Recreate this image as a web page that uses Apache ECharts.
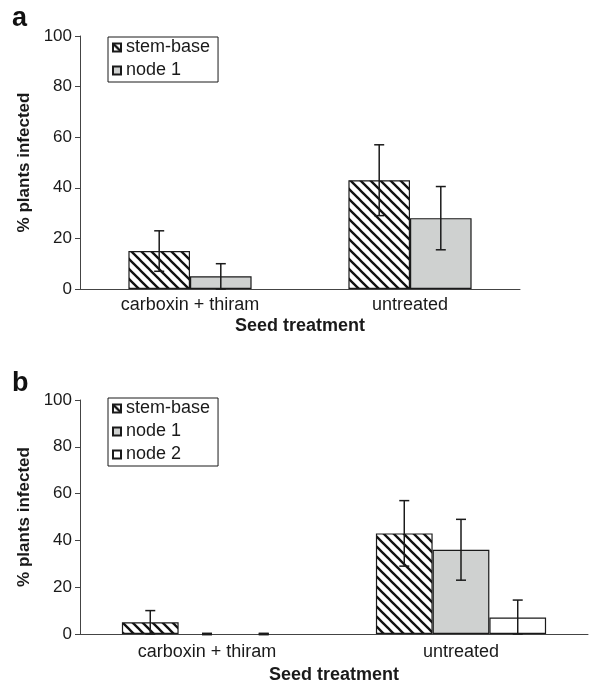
<!DOCTYPE html>
<html>
<head>
<meta charset="utf-8">
<script src="https://cdn.jsdelivr.net/npm/echarts@6/dist/echarts.min.js"></script>
<style>
  html, body { margin: 0; padding: 0; background: #fff; }
  #main { width: 589px; height: 685px; }
</style>
</head>
<body>
<div id="main"></div>
<script>
var categories = ['carboxin + thiram', 'untreated'];
var yTicks = [0, 20, 40, 60, 80, 100];

// panel a
var aStemBase = [15, 43];
var aStemBaseErr = [8, 14];
var aNode1 = [5, 28];
var aNode1Err = [5, 12.5];

// panel b
var bStemBase = [5, 43];
var bStemBaseErr = [5, 14];
var bNode1 = [0, 36];
var bNode1Err = [0, 13];
var bNode2 = [0, 7];
var bNode2Err = [0, 7.5];

var font = '"Liberation Sans", Arial, sans-serif';
var ink = '#1a1a1a';

// diagonal hatch for stem-base
var hatch = document.createElement('canvas');
hatch.width = 10; hatch.height = 10;
var hc = hatch.getContext('2d');
hc.fillStyle = '#fff';
hc.fillRect(0, 0, 10, 10);
hc.strokeStyle = '#111';
hc.lineWidth = 2.3;
[-10, 0, 10].forEach(function (c) {
  hc.beginPath();
  hc.moveTo(-1, c - 1);
  hc.lineTo(11, c + 11);
  hc.stroke();
});
var hatchFill = { image: hatch, repeat: 'repeat' };

var styles = {
  'stem-base': { color: hatchFill, borderColor: ink, borderWidth: 1.2 },
  'node 1': { color: '#cfd1d0', borderColor: ink, borderWidth: 1.2 },
  'node 2': { color: '#ffffff', borderColor: ink, borderWidth: 1.2 }
};

function barSeries(idx, name, values, gap) {
  return {
    type: 'bar', name: name, xAxisIndex: idx, yAxisIndex: idx,
    // empty bars get no outline, only the error cap shows at zero
    data: values.map(function (v) {
      return v === 0 ? { value: 0, itemStyle: { borderWidth: 0 } } : v;
    }),
    barGap: '0%', barCategoryGap: gap,
    itemStyle: styles[name], silent: true
  };
}

function errSeries(idx, values, errs, slot, n, gapFrac) {
  return {
    type: 'custom', xAxisIndex: idx, yAxisIndex: idx, z: 10, silent: true,
    data: values.map(function (v, i) { return [i, v, errs[i]]; }),
    encode: { x: 0, y: 1 },
    renderItem: function (params, api) {
      var c = api.value(0), v = api.value(1), e = api.value(2);
      var band = api.size([1, 0])[0];
      var barW = band * (1 - gapFrac) / n;
      var x = api.coord([c, v])[0] + (slot - (n - 1) / 2) * barW;
      var yHi = api.coord([c, v + e])[1];
      var yLo = api.coord([c, Math.max(0, v - e)])[1];
      var st = { stroke: ink, lineWidth: e === 0 ? 2.5 : 1.5 };
      return {
        type: 'group', children: [
          { type: 'line', shape: { x1: x, y1: yHi, x2: x, y2: yLo }, style: st },
          { type: 'line', shape: { x1: x - 5, y1: yHi, x2: x + 5, y2: yHi }, style: st },
          { type: 'line', shape: { x1: x - 5, y1: yLo, x2: x + 5, y2: yLo }, style: st }
        ]
      };
    }
  };
}

function xAxis(idx, margin, nameGap) {
  return {
    type: 'category', gridIndex: idx, data: categories,
    name: 'Seed treatment', nameLocation: 'middle', nameGap: nameGap,
    nameTextStyle: { fontFamily: font, fontSize: 18, fontWeight: 'bold', color: ink },
    axisLine: { lineStyle: { color: '#444', width: 1 } },
    axisTick: { length: 5, lineStyle: { color: '#444' } },
    axisLabel: { fontFamily: font, fontSize: 18, color: ink, margin: margin }
  };
}

function yAxis(idx) {
  return {
    type: 'value', gridIndex: idx,
    min: yTicks[0], max: yTicks[yTicks.length - 1], interval: yTicks[1] - yTicks[0],
    name: '% plants infected', nameLocation: 'middle', nameGap: 45,
    nameTextStyle: { fontFamily: font, fontSize: 17, fontWeight: 'bold', color: ink },
    axisLine: { show: true, lineStyle: { color: '#444', width: 1 } },
    axisTick: { show: true, length: 5, lineStyle: { color: '#444' } },
    axisLabel: { fontFamily: font, fontSize: 17, color: ink, margin: 8 },
    splitLine: { show: false }
  };
}

function legend(top, names) {
  return {
    left: 108, top: top, orient: 'vertical', data: names, icon: 'rect',
    itemWidth: 8, itemHeight: 8, itemGap: 2, padding: [0, 8, 1, 4],
    borderColor: ink, borderWidth: 1, selectedMode: false,
    textStyle: { fontFamily: font, fontSize: 18, lineHeight: 21, color: ink }
  };
}

var chart = echarts.init(document.getElementById('main'));
chart.setOption({
  animation: false,
  backgroundColor: '#fff',
  grid: [
    { left: 80, top: 36, width: 440, height: 253 },
    { left: 80, top: 400, width: 508, height: 234 }
  ],
  xAxis: [xAxis(0, 7, 28), xAxis(1, 9, 32)],
  yAxis: [yAxis(0), yAxis(1)],
  legend: [
    legend(37, ['stem-base', 'node 1']),
    legend(398, ['stem-base', 'node 1', 'node 2'])
  ],
  graphic: [
    { type: 'text', left: 12, top: 5, style: { text: 'a', font: 'bold 27px ' + font, fill: '#111' } },
    { type: 'text', left: 12, top: 370, style: { text: 'b', font: 'bold 27px ' + font, fill: '#111' } }
  ],
  series: [
    barSeries(0, 'stem-base', aStemBase, '44%'),
    barSeries(0, 'node 1', aNode1, '44%'),
    errSeries(0, aStemBase, aStemBaseErr, 0, 2, 0.44),
    errSeries(0, aNode1, aNode1Err, 1, 2, 0.44),
    barSeries(1, 'stem-base', bStemBase, '33%'),
    barSeries(1, 'node 1', bNode1, '33%'),
    barSeries(1, 'node 2', bNode2, '33%'),
    errSeries(1, bStemBase, bStemBaseErr, 0, 3, 0.33),
    errSeries(1, bNode1, bNode1Err, 1, 3, 0.33),
    errSeries(1, bNode2, bNode2Err, 2, 3, 0.33)
  ]
});
</script>
</body>
</html>
